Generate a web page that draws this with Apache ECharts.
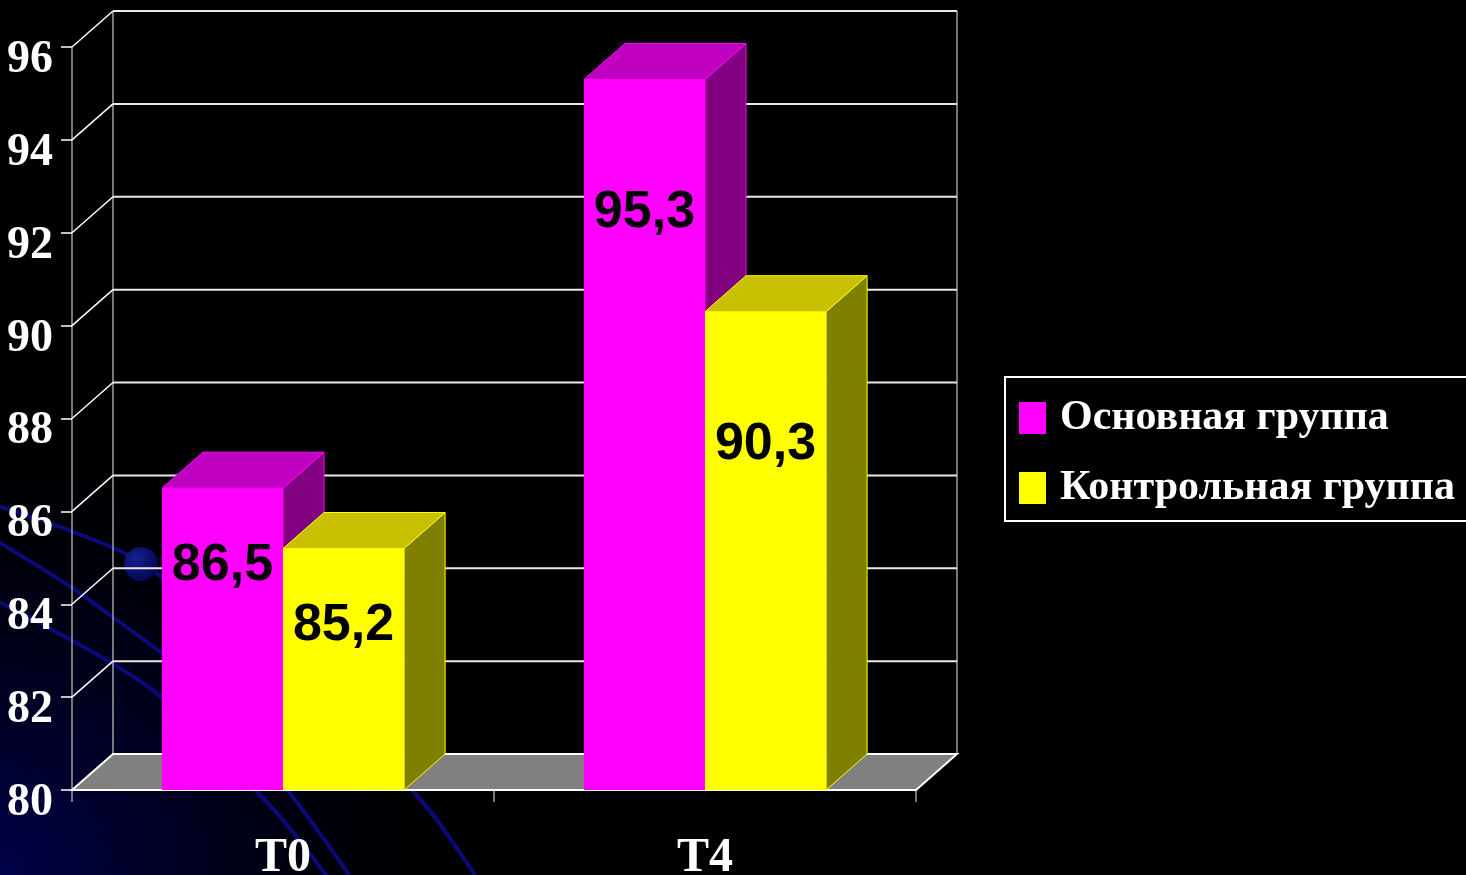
<!DOCTYPE html>
<html>
<head>
<meta charset="utf-8">
<title>Chart</title>
<script src="https://cdn.jsdelivr.net/npm/echarts@6/dist/echarts.min.js"></script>
<style>
  html, body { margin: 0; padding: 0; background: #000; }
  #chart { width: 1466px; height: 875px; }
</style>
</head>
<body>
<div id="chart"></div>
<script>
// data
const categories = ['T0', 'T4'];
const seriesNames = ['Основная группа', 'Контрольная группа'];
const mainGroup = [86.5, 95.3];
const controlGroup = [85.2, 90.3];
const yTicks = [80, 82, 84, 86, 88, 90, 92, 94, 96];

// 3d depth of the box, in px
const DX = 41;
const DY = -36;
// how far the value labels sit below the bar top, per category
const LABEL_DROP = [77, 133];

const serif = '"Liberation Serif", "Times New Roman", serif';

function wallItem(params, api) {
  const cs = params.coordSys;
  const v = api.value(1);
  const y = api.coord([0, v])[1];
  const L = cs.x;
  const R = cs.x + cs.width;
  const children = [];
  if (v === yTicks[0]) {
    const yTop = api.coord([0, yTicks[yTicks.length - 1]])[1];
    children.push({
      type: 'line',
      shape: { x1: L + DX, y1: y + DY, x2: L + DX, y2: yTop + DY },
      style: { stroke: '#a0a0a0', lineWidth: 1.5 }
    });
    children.push({
      type: 'line',
      shape: { x1: R + DX, y1: y + DY, x2: R + DX, y2: yTop + DY },
      style: { stroke: '#a0a0a0', lineWidth: 1.5 }
    });
    children.push({
      type: 'polygon',
      shape: { points: [[L, y], [R, y], [R + DX, y + DY], [L + DX, y + DY]] },
      style: { fill: '#808080', stroke: '#ffffff', lineWidth: 2 }
    });
  } else {
    children.push({
      type: 'line',
      shape: { x1: L + DX, y1: y + DY, x2: R + DX, y2: y + DY },
      style: { stroke: '#e8e8e8', lineWidth: 2 }
    });
    children.push({
      type: 'line',
      shape: { x1: L, y1: y, x2: L + DX, y2: y + DY },
      style: { stroke: '#ffffff', lineWidth: 1.5 }
    });
  }
  return { type: 'group', children: children };
}

function barRenderer(slot, front, top, side) {
  return function (params, api) {
    const ci = api.value(0);
    const v = api.value(1);
    const p = api.coord([ci, v]);
    const base = api.coord([ci, yTicks[0]])[1];
    const w = api.size([1, 0])[0] * 0.287;
    const x0 = slot === 0 ? p[0] - w : p[0];
    const yt = p[1];
    return {
      type: 'group',
      children: [
        {
          type: 'polygon',
          shape: { points: [[x0 + w, yt], [x0 + w + DX, yt + DY], [x0 + w + DX, base + DY], [x0 + w, base]] },
          style: { fill: side, stroke: front, lineWidth: 1 }
        },
        {
          type: 'polygon',
          shape: { points: [[x0, yt], [x0 + w, yt], [x0 + w + DX, yt + DY], [x0 + DX, yt + DY]] },
          style: { fill: top, stroke: front, lineWidth: 1 }
        },
        {
          type: 'rect',
          shape: { x: x0, y: yt, width: w, height: base - yt },
          style: { fill: front }
        },
        {
          type: 'text',
          style: {
            text: String(v).replace('.', ','),
            x: x0 + w / 2,
            y: yt + LABEL_DROP[ci],
            align: 'center',
            verticalAlign: 'middle',
            fill: '#000',
            fontFamily: '"Liberation Sans", Arial, sans-serif',
            fontWeight: 'bold',
            fontSize: 52
          }
        }
      ]
    };
  };
}

const chart = echarts.init(document.getElementById('chart'));

const option = {
  backgroundColor: '#000000',
  animation: false,
  grid: { left: 72, right: 550, top: 47, bottom: 85, outerBoundsMode: 'none', containLabel: false },
  legend: {
    orient: 'vertical',
    left: 1005,
    top: 377,
    padding: [20, 13, 12, 14],
    itemWidth: 27,
    itemHeight: 32,
    itemGap: 28,
    icon: 'rect',
    borderColor: '#ffffff',
    borderWidth: 2,
    textStyle: {
      color: '#ffffff',
      fontFamily: serif,
      fontWeight: 'bold',
      fontSize: 42,
      lineHeight: 40,
      padding: [0, 0, 0, 9]
    },
    data: seriesNames
  },
  xAxis: {
    type: 'category',
    data: categories,
    boundaryGap: true,
    axisLine: { lineStyle: { color: '#ffffff', width: 2 } },
    axisTick: { show: true, length: 12, lineStyle: { color: '#a0a0a0', width: 1.5 } },
    axisLabel: {
      color: '#ffffff',
      fontFamily: serif,
      fontWeight: 'bold',
      fontSize: 48,
      margin: 45
    },
    splitLine: { show: false }
  },
  yAxis: {
    type: 'value',
    min: yTicks[0],
    max: yTicks[yTicks.length - 1],
    interval: 2,
    axisLine: { show: true, lineStyle: { color: '#a0a0a0', width: 1.5 } },
    axisTick: { show: true, length: 11, lineStyle: { color: '#ffffff', width: 1.5 } },
    axisLabel: {
      color: '#ffffff',
      fontFamily: serif,
      fontWeight: 'bold',
      fontSize: 46,
      margin: 19,
      verticalAlign: 'top',
      lineHeight: 26
    },
    splitLine: { show: false }
  },
  graphic: [
    {
      type: 'rect', z: -10, silent: true,
      shape: { x: 0, y: 0, width: 1466, height: 875 },
      style: {
        fill: {
          type: 'radial', x: 0, y: 1, r: 0.55,
          colorStops: [
            { offset: 0, color: 'rgba(0, 0, 72, 1)' },
            { offset: 0.5, color: 'rgba(0, 0, 36, 0.7)' },
            { offset: 1, color: 'rgba(0, 0, 0, 0)' }
          ]
        }
      }
    },
    { type: 'polyline', z: -5, silent: true, shape: { points: [[-5, 505], [60, 527], [118, 550], [150, 568], [175, 590]], smooth: 0.4 }, style: { stroke: '#0a0a78', lineWidth: 4, fill: null } },
    { type: 'polyline', z: -5, silent: true, shape: { points: [[-5, 540], [71, 587], [107, 613], [162, 653], [180, 668]], smooth: 0.4 }, style: { stroke: '#0a0a78', lineWidth: 4, fill: null } },
    { type: 'polyline', z: -5, silent: true, shape: { points: [[-5, 600], [71, 640], [143, 683], [180, 715]], smooth: 0.4 }, style: { stroke: '#0a0a78', lineWidth: 4, fill: null } },
    { type: 'polyline', z: -5, silent: true, shape: { points: [[240, 775], [257, 792], [283, 820], [326, 875], [335, 888]], smooth: 0.4 }, style: { stroke: '#0a0a78', lineWidth: 4, fill: null } },
    { type: 'polyline', z: -5, silent: true, shape: { points: [[275, 775], [289, 792], [310, 820], [349, 875], [356, 888]], smooth: 0.4 }, style: { stroke: '#0a0a78', lineWidth: 4, fill: null } },
    { type: 'polyline', z: -5, silent: true, shape: { points: [[400, 775], [414, 792], [437, 820], [475, 875], [483, 888]], smooth: 0.4 }, style: { stroke: '#0a0a78', lineWidth: 4, fill: null } },
    {
      type: 'circle', z: -4, silent: true,
      shape: { cx: 141, cy: 564, r: 17 },
      style: {
        fill: {
          type: 'radial', x: 0.35, y: 0.35, r: 0.8,
          colorStops: [
            { offset: 0, color: '#142090' },
            { offset: 1, color: '#02024a' }
          ]
        }
      }
    }
  ],
  series: [
    {
      type: 'custom',
      name: 'wall',
      clip: false,
      silent: true,
      z: 1,
      renderItem: wallItem,
      encode: { x: 0, y: 1 },
      data: yTicks.map(function (v) { return [0, v]; })
    },
    {
      type: 'custom',
      name: seriesNames[0],
      clip: false,
      itemStyle: { color: '#ff00ff' },
      renderItem: barRenderer(0, '#ff00ff', '#c000c0', '#800080'),
      encode: { x: 0, y: 1 },
      data: mainGroup.map(function (v, i) { return [i, v]; })
    },
    {
      type: 'custom',
      name: seriesNames[1],
      clip: false,
      itemStyle: { color: '#ffff00' },
      renderItem: barRenderer(1, '#ffff00', '#c8c000', '#808000'),
      encode: { x: 0, y: 1 },
      data: controlGroup.map(function (v, i) { return [i, v]; })
    }
  ]
};

chart.setOption(option);
</script>
</body>
</html>
